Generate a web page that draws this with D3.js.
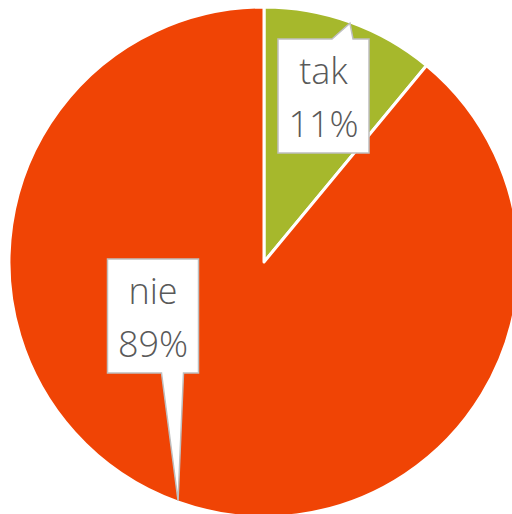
<!DOCTYPE html>
<html>
  <head>
    <script src="https://d3js.org/d3.v7.min.js"></script>
    <style>
      body { margin: 0; background: #fff; }
    </style>
  </head>
  <body>
    <svg width="512" height="514"></svg>
    <script>
      const categories = ["tak", "nie"];
      const values = [11, 89];
      const labels = ["11%", "89%"];
      const colors = ["#a6b82c", "#f04405"];

      const svg = d3.select("svg");
      const cx = 264, cy = 262, radius = 255;

      const data = categories.map((c, i) => ({ name: c, value: values[i], label: labels[i] }));

      const pie = d3.pie().sort(null).value(d => d.value);
      const arc = d3.arc().innerRadius(0).outerRadius(radius);
      const arcs = pie(data);

      const g = svg.append("g").attr("transform", `translate(${cx},${cy})`);

      g.selectAll("path.slice")
        .data(arcs)
        .join("path")
          .attr("class", "slice")
          .attr("d", arc)
          .attr("fill", (d, i) => colors[i])
          .attr("stroke", "#fff")
          .attr("stroke-width", 3)
          .attr("stroke-linejoin", "round");

      // callout boxes: box center relative to pie center, tail side and base offset
      const boxW = 91, boxH = 114;
      const callouts = [
        { bx: 59.5, by: -166, side: "top", t0: 9, t1: 30 },
        { bx: -111, by: 54, side: "bottom", t0: 8, t1: 30 }
      ];

      arcs.forEach((d, i) => {
        const c = callouts[i];
        const mid = (d.startAngle + d.endAngle) / 2;
        const tipR = radius * 0.995;
        const tx = Math.sin(mid) * tipR, ty = -Math.cos(mid) * tipR;
        const x0 = c.bx - boxW / 2, x1 = c.bx + boxW / 2;
        const y0 = c.by - boxH / 2, y1 = c.by + boxH / 2;
        const p = d3.path();
        if (c.side === "top") {
          p.moveTo(x0, y0);
          p.lineTo(x0 + c.t0 + 45, y0);
          p.lineTo(tx, ty);
          p.lineTo(x0 + c.t1 + 45, y0);
          p.lineTo(x1, y0);
          p.lineTo(x1, y1);
          p.lineTo(x0, y1);
          p.closePath();
        } else {
          p.moveTo(x0, y0);
          p.lineTo(x1, y0);
          p.lineTo(x1, y1);
          p.lineTo(x0 + c.t1 + 46, y1);
          p.lineTo(tx, ty);
          p.lineTo(x0 + c.t0 + 46, y1);
          p.lineTo(x0, y1);
          p.closePath();
        }
        g.append("path")
          .attr("d", p.toString())
          .attr("fill", "#fff")
          .attr("stroke", "#bfbfbf")
          .attr("stroke-width", 1.5)
          .attr("stroke-linejoin", "miter");

        const text = g.append("text")
          .attr("text-anchor", "middle")
          .attr("fill", "#595959")
          .attr("font-family", "'Open Sans', 'Noto Sans', sans-serif")
          .attr("font-weight", 300)
          .attr("font-size", 36);
        text.append("tspan").attr("x", c.bx).attr("y", c.by - 12).text(d.data.name);
        text.append("tspan").attr("x", c.bx).attr("y", c.by + 41).text(d.data.label);
      });
    </script>
  </body>
</html>
